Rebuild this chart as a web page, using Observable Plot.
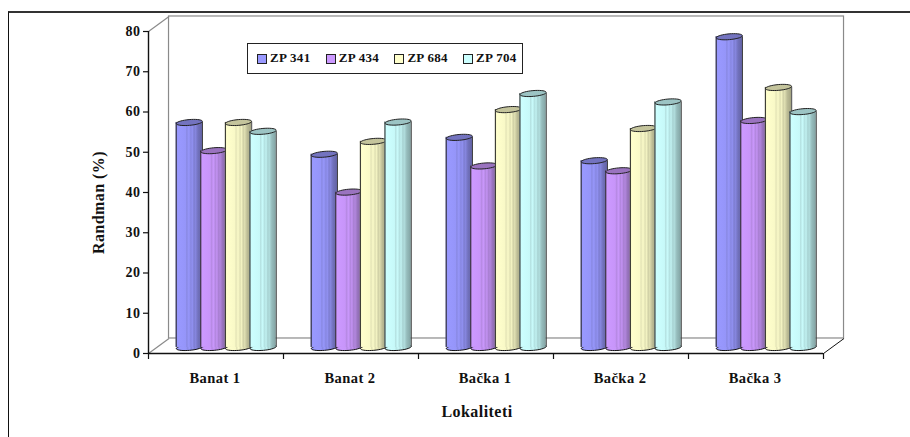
<!DOCTYPE html>
<html><head><meta charset="utf-8">
<script src="https://cdn.jsdelivr.net/npm/d3@7"></script>
<script src="https://cdn.jsdelivr.net/npm/@observablehq/plot@0.6"></script>
<style>
html,body{margin:0;padding:0;background:#fff}
#wrap{position:relative;width:910px;height:437px;overflow:hidden;font-family:"Liberation Serif",serif}
#border{position:absolute;left:8px;top:11px;width:950px;height:480px;border-left:1px solid #111;border-top:2px solid #333;box-sizing:content-box}
#legend{position:absolute;left:247px;top:43px;width:276px;height:31px;box-sizing:border-box;border:1px solid #222;background:#fff;font:bold 13px "Liberation Serif",serif;color:#111;letter-spacing:.3px}
#legend span.i{position:absolute;top:6px;height:16px;line-height:16px;white-space:nowrap}
#legend i{position:absolute;left:0;top:4px;width:8px;height:8px;border:1px solid #222}
#legend b{position:absolute;left:13px;top:0;font-weight:bold}
svg text{letter-spacing:.45px}
</style></head><body>
<div id="wrap"><div id="border"></div><div id="chart"></div><div id="legend"></div></div>
<script>
const categories = ["Banat 1","Banat 2","Bačka 1","Bačka 2","Bačka 3"];
const seriesNames = ["ZP 341","ZP 434","ZP 684","ZP 704"];
const zp341 = [55.9,48.0,52.2,46.4,77.2];
const zp434 = [48.9,38.6,45.1,43.9,56.4];
const zp684 = [55.9,51.2,59.1,54.4,64.6];
const zp704 = [53.7,56.0,63.1,61.0,58.6];
const seriesValues = [zp341,zp434,zp684,zp704];
const swatch = ["#9999ff","#cc99ff","#ffffcc","#ccffff"];
const shade  = ["#6a6ab0","#8e6cb0","#b0b08c","#8cb0b0"];
const tops   = ["#7373bf","#9a73bf","#c4c49c","#9cc4c4"];
const yTicks = [0,10,20,30,40,50,60,70,80];

// depth of the pseudo-3D box, in data units
const depthX = 0.152, depthY = 3.73, floorY = 1.5;
const barStart = 0.205, barStep = 0.1822, barWidth = 0.195;

function gradient(j){
  const c = swatch[j], s = shade[j], m = d3.interpolateRgb(c,s);
  const stops = [[0,m(.2)],[.08,c],[.38,m(.08)],[.42,m(.35)],[.5,m(.05)],[.58,m(.4)],[.63,m(.15)],[.7,m(.6)],[.75,m(.4)],[.85,m(.85)],[.93,s],[1,m(1.2)]];
  return `<linearGradient id="g${j}" x1="0" x2="1" y1="0" y2="0">`+stops.map(([o,k])=>`<stop offset="${o}" stop-color="${k}"/>`).join("")+`</linearGradient>`;
}
const defs = () => {
  const d = document.createElementNS("http://www.w3.org/2000/svg","defs");
  d.innerHTML = seriesNames.map((_,j)=>gradient(j)).join("");
  return d;
};
// tilted ellipse symbol for the cylinder caps
const cap = {draw(ctx,size){
  const r=Math.sqrt(size/Math.PI), ry=r*0.22, a=-5*Math.PI/180, n=36;
  for(let k=0;k<n;k++){
    const t=k/n*2*Math.PI, ex=r*Math.cos(t), ey=ry*Math.sin(t);
    const px=ex*Math.cos(a)-ey*Math.sin(a), py=ex*Math.sin(a)+ey*Math.cos(a);
    k?ctx.lineTo(px,py):ctx.moveTo(px,py);
  }
  ctx.closePath();
}};

const barMarks = seriesNames.flatMap((name,j)=>{
  const rows = categories.map((cat,i)=>({
    cat, x1:i+barStart+j*barStep, x2:i+barStart+j*barStep+barWidth,
    xc:i+barStart+j*barStep+barWidth/2, v:seriesValues[j][i]+floorY
  }));
  return [
    Plot.dot(rows,{x:"xc",y:floorY,r:13.1,symbol:cap,fill:`url(#g${j})`,stroke:"#111",strokeWidth:1}),
    Plot.rect(rows,{x1:"x1",x2:"x2",y1:floorY,y2:"v",fill:`url(#g${j})`,inset:0}),
    Plot.ruleX(rows,{x:"x1",y1:floorY,y2:"v",stroke:"#222",strokeWidth:1}),
    Plot.ruleX(rows,{x:"x2",y1:floorY,y2:"v",stroke:"#444",strokeWidth:1}),
    Plot.dot(rows,{x:"xc",y:"v",r:13.1,symbol:cap,fill:tops[j],stroke:"#222",strokeWidth:1})
  ];
});

const wall = "#8a8a8a";
const plot = Plot.plot({
  width:910,height:437,
  marginLeft:148,marginRight:87,marginTop:31,marginBottom:84,
  style:{background:"transparent",fontFamily:"'Liberation Serif',serif"},
  x:{domain:[0,5],axis:null},
  y:{domain:[0,80],axis:null},
  marks:[
    defs,
    // back wall and side links
    Plot.rect([0],{x1:depthX,x2:5+depthX,y1:depthY,y2:80+depthY,stroke:wall,strokeWidth:1.2,fill:"none"}),
    Plot.link([0],{x1:0,y1:0,x2:depthX,y2:depthY,stroke:wall,strokeWidth:1.2}),
    Plot.link([0],{x1:0,y1:80,x2:depthX,y2:80+depthY,stroke:wall,strokeWidth:1.2}),
    Plot.link([0],{x1:5,y1:0,x2:5+depthX,y2:depthY,stroke:"#111",strokeWidth:1}),
    ...barMarks,
    Plot.axisY({ticks:yTicks,tickSize:5,tickPadding:3,fontSize:14,fontWeight:"bold",fill:"#111",stroke:"#111",strokeWidth:1.2,label:null}),
    Plot.ruleX([0],{y1:0,y2:80,stroke:"#111",strokeWidth:1.4}),
    Plot.ruleY([0],{x1:0,x2:5,stroke:"#111",strokeWidth:1.4}),
    Plot.axisX({ticks:d3.range(0,6),tickSize:6,tickFormat:()=>"",stroke:"#111",strokeWidth:1.2,label:null}),
    Plot.axisX({ticks:categories.map((_,i)=>i+.5),tickSize:0,tickPadding:19,dx:-1,tickFormat:v=>categories[Math.floor(v)],fontSize:14.5,fontWeight:"bold",fill:"#111",label:null}),
    Plot.text(["Randman (%)"],{frameAnchor:"left",textAnchor:"middle",dx:-50,dy:10,rotate:-90,fontSize:16,fontWeight:"bold",fill:"#111"}),
    Plot.text(["Lokaliteti"],{frameAnchor:"bottom",textAnchor:"middle",dy:63,dx:-9,fontSize:16,fontWeight:"bold",fill:"#111"})
  ]
});
document.getElementById("chart").append(plot);
const lg = document.getElementById("legend");
seriesNames.forEach((n,j)=>{
  const s=document.createElement("span"); s.className="i";
  s.style.left=(9+j*68.7)+"px";
  s.innerHTML=`<i style="background:${swatch[j]}"></i><b>${n}</b>`;
  lg.append(s);
});
</script></body></html>
